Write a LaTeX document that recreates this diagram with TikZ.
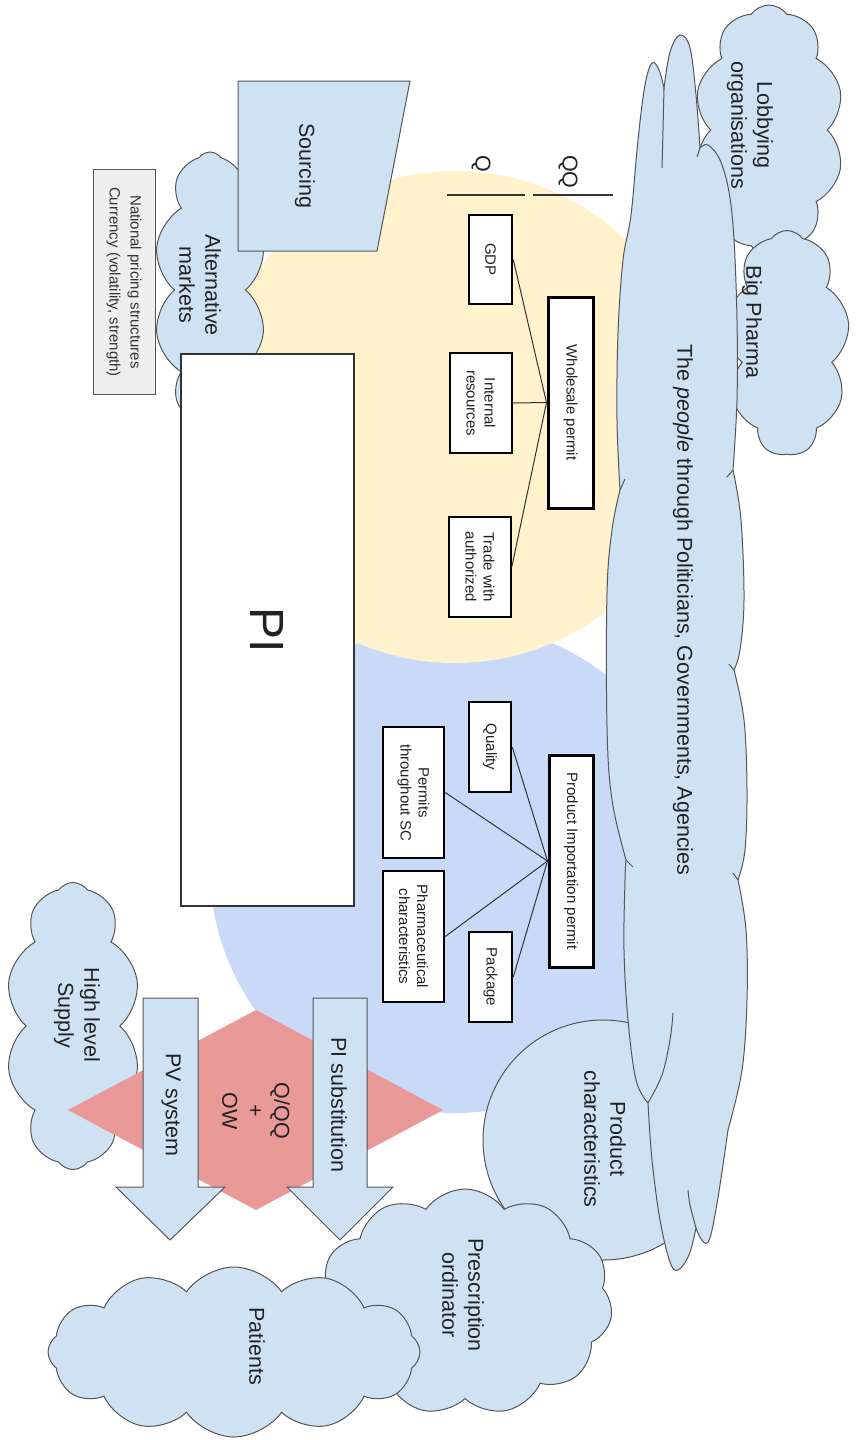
\documentclass[tikz,border=0pt]{standalone}
\usepackage{fontspec}
\setmainfont{Liberation Sans}
\usetikzlibrary{shapes.symbols}

\begin{document}
\begin{tikzpicture}[x=1pt,y=-1pt,
  lbl/.style={font=\fontsize{21.5}{26}\selectfont,text=txt_dark,align=center,rotate=-90,inner sep=0pt},
  puff/.style={cloud,cloud puffs=#1,cloud puff arc=110,cloud ignores aspect,draw=ln_gray,fill=cl_blue,line width=1pt,inner sep=0pt},
  permbox/.style={draw=black,fill=white,rotate=-90,align=center,inner sep=0pt,font=\fontsize{15}{18}\selectfont,text=txt_dark},
  lobe/.style={smooth,tension=0.6},
]
\definecolor{cl_blue}{RGB}{207,226,243}   %#CFE2F3
\definecolor{cl_yellow}{RGB}{255,242,204} %#FFF2CC
\definecolor{cl_peri}{RGB}{201,218,248}   %#C9DAF8
\definecolor{cl_red}{RGB}{234,153,153}    %#EA9999
\definecolor{cl_gray}{RGB}{239,239,239}   %#EFEFEF
\definecolor{ln_gray}{RGB}{85,85,85}      %#555555
\definecolor{ln_dark}{RGB}{51,51,51}      %#333333
\definecolor{txt_dark}{RGB}{34,34,34}     %#222222

\useasboundingbox [fill=white] (0,0) rectangle (855,1440);

% the two areas
\fill [cl_peri] (455,868) circle [radius=245pt];
\fill [cl_yellow] (455,417) circle [radius=246pt];

\node [circle,draw=ln_gray,fill=cl_blue,line width=1pt,minimum size=240pt] (prod) at (603,1140) {};
\node [puff=10,minimum width=135pt,minimum height=287pt] (hls) at (73,1026) {};

\coordinate (DL) at (68,1110);
\coordinate (DT) at (256,1010);
\coordinate (DR) at (443,1110);
\coordinate (DB) at (256,1210);
\fill [cl_red] (DL) -- (DT) -- (DR) -- (DB) -- cycle;

% actors
\node [puff=10,minimum width=150pt,minimum height=250pt] (lobby) at (769,130) {};
\node [puff=9,minimum width=125pt,minimum height=225pt] (bigph) at (787,343) {};

% the long cloud, lobe by lobe
\draw [draw=ln_gray,fill=cl_blue,line width=1pt]
  plot [lobe] coordinates {(648,1103) (636,1080) (628,1020) (624,950) (625,880) (626,860)}
  -- plot [lobe] coordinates {(626,860) (612,800) (607,727) (607,593) (612,530) (620,490)}
  -- plot [lobe] coordinates {(620,490) (617,420) (618,333) (623,260) (631,215) (638,140) (645,85) (652,63) (659,70) (664,88)}
  -- plot [lobe] coordinates {(664,88) (670,52) (680,35) (690,48) (696,95) (700,148)}
  -- plot [lobe] coordinates {(700,148) (708,145) (720,160) (729,192) (734,240) (737,320) (737,400) (733,470)}
  -- plot [lobe] coordinates {(733,470) (741,520) (744,600) (740,650) (734,670)}
  -- plot [lobe] coordinates {(734,670) (744,720) (747,790) (745,850) (738,880)}
  -- plot [lobe] coordinates {(738,880) (746,930) (747,1000) (742,1070) (728,1130)}
  -- plot [lobe] coordinates {(728,1130) (720,1185) (712,1230) (707,1243) (701,1239) (696,1228)}
  -- plot [lobe] coordinates {(696,1228) (689,1255) (678,1270) (670,1262) (660,1220) (652,1160) (648,1103)}
  -- cycle;
\draw [ln_gray,line width=1pt] plot [lobe] coordinates {(664,88) (663,130) (662,168)};
\draw [ln_gray,line width=1pt] (700,148) -- (697,157);
\draw [ln_gray,line width=1pt] plot [lobe] coordinates {(648,1103) (662,1075) (670,1040) (673,1013)};
\draw [ln_gray,line width=1pt] plot [lobe] coordinates {(696,1228) (690,1205) (688,1190)};
\draw [ln_gray,line width=1pt] (620,490) -- (625,479);
\draw [ln_gray,line width=1pt] (626,860) -- (633,867);
\draw [ln_gray,line width=1pt] (733,470) -- (727,477);
\draw [ln_gray,line width=1pt] (734,670) -- (729,664);
\draw [ln_gray,line width=1pt] (738,880) -- (733,873);

\node [puff=10,minimum width=112pt,minimum height=276pt] (altm) at (210,290) {};

\node [permbox,draw=ln_gray,fill=cl_gray,line width=1pt,minimum width=225pt,minimum height=62pt,text=ln_dark,
       font=\fontsize{15}{21}\selectfont] (natp) at (124,282) {National pricing structures\\Currency (volatility, strength)};

\coordinate (SA) at (238,81);
\coordinate (SB) at (410,81);
\coordinate (SC) at (377,251);
\coordinate (SD) at (238,251);
\draw [draw=ln_gray,fill=cl_blue,line width=1pt] (SA) -- (SB) -- (SC) -- (SD) -- cycle;

\node [permbox,draw=ln_dark,line width=1.5pt,minimum width=552pt,minimum height=173pt,
       font=\fontsize{48}{52}\selectfont] (pi) at (267.5,630) {PI};

\node [puff=11,minimum width=295pt,minimum height=226pt] (presc) at (465,1302) {};
\node [puff=12,minimum width=372pt,minimum height=170pt] (pat) at (234,1352) {};

% block arrows
\draw [draw=ln_gray,fill=cl_blue,line width=1pt] (313,998) -- (367,998) -- (367,1187) -- (393,1187)
      -- (340,1240) -- (287,1187) -- (313,1187) -- cycle;
\draw [draw=ln_gray,fill=cl_blue,line width=1pt] (143,998) -- (198,998) -- (198,1187) -- (225,1187)
      -- (170,1240) -- (116,1187) -- (143,1187) -- cycle;

% wholesale side
\node [permbox,line width=3pt,minimum width=211pt,minimum height=45pt] (whole) at (570.5,402.5) {Wholesale permit};
\node [permbox,line width=2.5pt,minimum width=89pt,minimum height=43pt] (gdp) at (490.5,259.5) {GDP};
\node [permbox,line width=1.5pt,minimum width=100pt,minimum height=62pt] (intres) at (481,403) {Internal\\resources};
\node [permbox,line width=1.5pt,minimum width=100pt,minimum height=62pt] (trade) at (480,567) {Trade with\\authorized};
\draw [ln_dark,line width=1pt] (gdp.north) -- (whole.south);
\draw [ln_dark,line width=1pt] (intres.north) -- (whole.south);
\draw [ln_dark,line width=1pt] (trade.north) -- (whole.south);

% product side
\node [permbox,line width=3pt,minimum width=212pt,minimum height=44pt] (prodimp) at (571,861) {Product Importation permit};
\node [permbox,line width=2.5pt,minimum width=90pt,minimum height=42pt] (qual) at (490,747) {Quality};
\node [permbox,line width=2.5pt,minimum width=131pt,minimum height=61pt] (permsc) at (413.5,792.5) {Permits\\throughout SC};
\node [permbox,line width=2.5pt,minimum width=131pt,minimum height=61pt] (pharma) at (413.5,936.5) {Pharmaceutical\\characteristics};
\node [permbox,line width=2.5pt,minimum width=90pt,minimum height=43pt] (pack) at (490.5,977) {Package};
\draw [ln_dark,line width=1pt] (qual.north) -- (prodimp.south);
\draw [ln_dark,line width=1pt] (permsc.north) -- (prodimp.south);
\draw [ln_dark,line width=1pt] (pharma.north) -- (prodimp.south);
\draw [ln_dark,line width=1pt] (pack.north) -- (prodimp.south);

% Q and QQ
\coordinate (QA) at (447,195);
\coordinate (QB) at (525,195);
\coordinate (QQA) at (533,195);
\coordinate (QQB) at (613,195);
\draw [ln_dark,line width=1.5pt] (QA) -- (QB);
\draw [ln_dark,line width=1.5pt] (QQA) -- (QQB);
\node [lbl,anchor=west] (qT) at (481,155) {Q};
\node [lbl,anchor=west] (qqT) at (568,155) {QQ};

% labels
\node [lbl] (srcT) at (305,166) {Sourcing};
\node [lbl] (altT) at (200,285) {Alternative\\markets};
\node [lbl] (lobT) at (750,125) {Lobbying\\organisations};
\node [lbl] (bigT) at (752,322) {Big Pharma};
\node [lbl] (pplT) at (683,610) {The \textit{people} through Politicians, Governments, Agencies};
\node [lbl] (prodT) at (605,1139) {Product\\characteristics};
\node [lbl] (hlsT) at (77,1015) {High level\\Supply};
\node [lbl] (prescT) at (463,1295) {Prescription\\ordinator};
\node [lbl] (patT) at (257,1346) {Patients};
\node [lbl] (subT) at (339,1105) {PI substitution};
\node [lbl] (pvT) at (171,1105) {PV system};
\node [lbl] (qqowT) at (256,1111) {Q/QQ\\+\\OW};

\end{tikzpicture}
\end{document}
